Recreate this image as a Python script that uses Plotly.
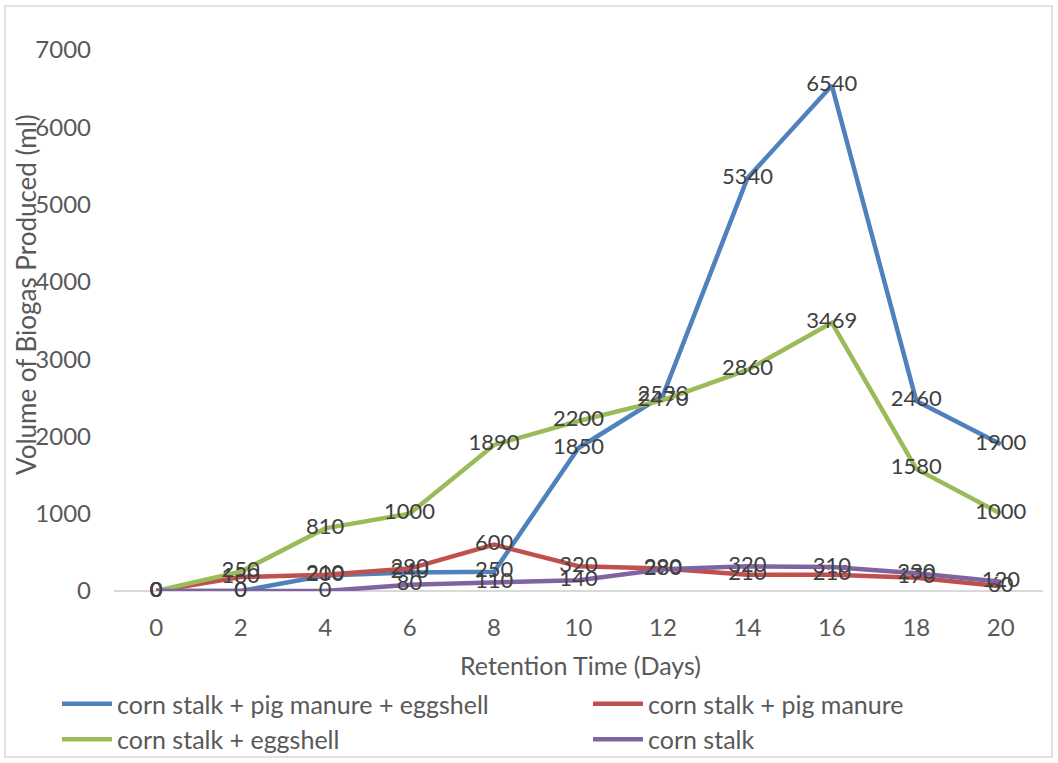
import plotly.graph_objects as go

days = [0, 2, 4, 6, 8, 10, 12, 14, 16, 18, 20]
pig_egg = [0, 0, 200, 240, 250, 1850, 2530, 5340, 6540, 2460, 1900]
pig = [0, 180, 210, 290, 600, 320, 290, 210, 210, 170, 60]
egg = [0, 250, 810, 1000, 1890, 2200, 2470, 2860, 3469, 1580, 1000]
stalk = [0, 0, 0, 80, 110, 140, 280, 320, 310, 230, 120]

names = ["corn stalk + pig manure + eggshell", "corn stalk + pig manure",
         "corn stalk + eggshell", "corn stalk"]
series = [pig_egg, pig, egg, stalk]
colors = ["#4F81BD", "#C0504D", "#9BBB59", "#8064A2"]
legend_ids = ["legend", "legend2", "legend", "legend2"]

FONT = "Lato"
fig = go.Figure()
for n, s, c, lg in zip(names, series, colors, legend_ids):
    fig.add_trace(go.Scatter(
        x=days, y=s, name=n, mode="lines+text", legend=lg,
        text=[str(v) for v in s], textposition="middle center",
        textfont=dict(family=FONT, size=22, color="#404040"),
        line=dict(color=c, width=4.5), cliponaxis=False))

L, R, T, B = 114, 15, 50, 172
W, H = 1058, 763
pw, ph = W - L - R, H - T - B

def px(p):
    return (p - L) / pw

def py(p):
    return (H - B - p) / ph

leg_common = dict(orientation="v", xanchor="left", yanchor="top",
                  font=dict(family=FONT, size=25, color="#595959"),
                  itemwidth=50, tracegroupgap=0, bgcolor="rgba(0,0,0,0)")

fig.update_layout(
    width=W, height=H,
    margin=dict(l=L, r=R, t=T, b=B, autoexpand=False),
    paper_bgcolor="white", plot_bgcolor="white",
    font=dict(family=FONT, size=24, color="#595959"),
    xaxis=dict(range=[-1, 21], tickvals=days, showgrid=False, zeroline=False,
               showline=False, ticks="", tickfont=dict(size=24, color="#595959"),
               ticklabelstandoff=20),
    yaxis=dict(range=[0, 7000], dtick=1000, showgrid=False, zeroline=True,
               zerolinecolor="#D9D9D9", zerolinewidth=2, showline=False, ticks="",
               tickfont=dict(size=24, color="#595959"), ticklabelstandoff=22),
    showlegend=True,
    legend=dict(x=px(57), y=py(681), **leg_common),
    legend2=dict(x=px(588), y=py(681), **leg_common),
    annotations=[
        dict(text="Retention Time (Days)", x=px(580), y=py(665), xref="paper", yref="paper",
             xanchor="center", yanchor="middle",
             showarrow=False, font=dict(size=25, color="#595959")),
        dict(text="Volume of Biogas Produced (ml)", x=px(26), y=py(295), xref="paper", yref="paper",
             xanchor="center", yanchor="middle",
             showarrow=False, textangle=-90, font=dict(size=26, color="#595959")),
    ],
    shapes=[dict(type="rect", xref="paper", yref="paper",
                 x0=px(5), x1=px(1052), y0=py(757), y1=py(6),
                 line=dict(color="#D9D9D9", width=1.5))],
)

fig.write_html("out.html", config={"displayModeBar": False},
               post_script="document.body.style.margin='0';")
